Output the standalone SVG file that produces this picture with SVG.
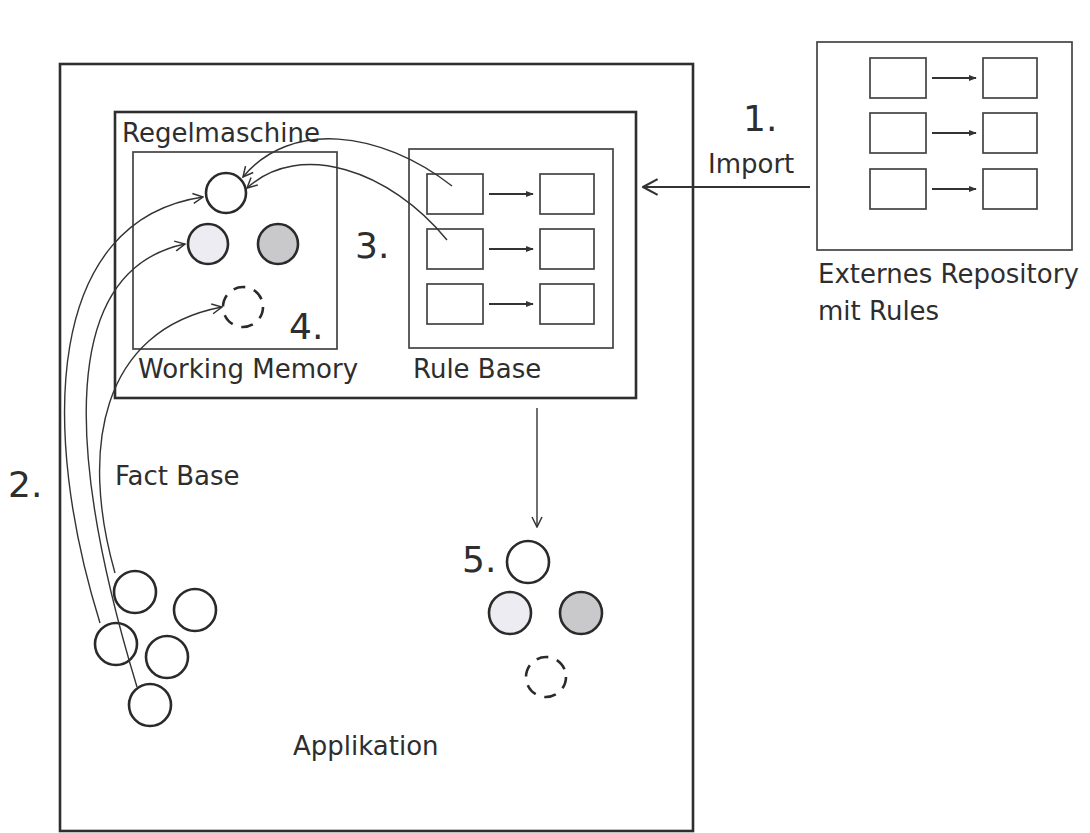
<svg xmlns="http://www.w3.org/2000/svg" width="1090" height="833" viewBox="0 0 1090 833">
<defs>
<style>
.lbl{font-family:"DejaVu Sans","Liberation Sans",sans-serif;font-size:26px;fill:#2e2e2e}
.num{font-family:"DejaVu Sans","Liberation Sans",sans-serif;font-size:36px;fill:#2e2e2e}
.box{fill:none;stroke:#2e2e2e;stroke-width:2.6}
.ibox{fill:none;stroke:#444;stroke-width:1.7}
.circ{fill:#fff;stroke:#2a2a2a;stroke-width:2.6}
.lg{fill:#ececf2}
.dg{fill:#c9c9cc}
.dash{fill:none;stroke:#2a2a2a;stroke-width:2.6;stroke-dasharray:12 9}
.con{fill:none;stroke:#333;stroke-width:1.4}
.small{fill:none;stroke:#333;stroke-width:1.8}
</style>
<marker id="v" viewBox="0 0 12 12" refX="11" refY="6" markerWidth="12" markerHeight="12" markerUnits="userSpaceOnUse" orient="auto">
<path d="M1 1 L11 6 L1 11" fill="none" stroke="#333" stroke-width="1.5"/>
</marker>
<marker id="vb" viewBox="0 0 16 16" refX="15" refY="8" markerWidth="18" markerHeight="18" markerUnits="userSpaceOnUse" orient="auto">
<path d="M2 1 L15 8 L2 15" fill="none" stroke="#333" stroke-width="2"/>
</marker>
<marker id="f" viewBox="0 0 10 10" refX="9" refY="5" markerWidth="8" markerHeight="8" markerUnits="userSpaceOnUse" orient="auto">
<path d="M0 1 L10 5 L0 9 Z" fill="#333"/>
</marker>
<g id="rulepair">
<rect class="ibox" x="0" y="0" width="56" height="40"/>
<rect class="ibox" x="113" y="0" width="54" height="40"/>
<line class="small" x1="62" y1="20" x2="106" y2="20" marker-end="url(#f)"/>
</g>
</defs>
<rect width="1090" height="833" fill="#fff"/>

<g id="applikation">
<rect class="box" x="60" y="64" width="633" height="767"/>
<text class="lbl" x="293" y="755">Applikation</text>
</g>

<g id="regelmaschine">
<rect class="box" x="115" y="112" width="521" height="286"/>
<text class="lbl" x="122" y="142">Regelmaschine</text>
</g>

<g id="working-memory">
<rect class="ibox" x="133" y="152" width="204" height="197"/>
<text class="lbl" x="138" y="378">Working Memory</text>
<circle class="circ" cx="226" cy="193" r="20"/>
<circle class="circ lg" cx="208" cy="244" r="20"/>
<circle class="circ dg" cx="278" cy="244" r="20"/>
<circle class="dash" cx="243" cy="307" r="20"/>
<text class="num" x="289" y="339">4.</text>
</g>

<g id="rule-base">
<rect class="ibox" x="409" y="149" width="204" height="199"/>
<text class="lbl" x="413" y="378">Rule Base</text>
<use href="#rulepair" x="427" y="174"/>
<use href="#rulepair" x="427" y="229"/>
<use href="#rulepair" x="427" y="284"/>
</g>

<g id="step3"><text class="num" x="355" y="258">3.</text></g>

<g id="repository">
<rect class="ibox" x="817" y="42" width="255" height="208"/>
<use href="#rulepair" x="870" y="58"/>
<use href="#rulepair" x="870" y="113"/>
<use href="#rulepair" x="870" y="169"/>
<text class="lbl" x="818" y="283">Externes Repository</text>
<text class="lbl" x="818" y="320">mit Rules</text>
</g>

<g id="import-label">
<text class="num" x="743" y="131">1.</text>
<text class="lbl" x="708" y="173">Import</text>
</g>

<g id="fact-base">
<text class="lbl" x="115" y="485">Fact Base</text>
<circle class="circ" cx="135" cy="592" r="21"/>
<circle class="circ" cx="195" cy="610" r="21"/>
<circle class="circ" cx="116" cy="644" r="21"/>
<circle class="circ" cx="167" cy="657" r="21"/>
<circle class="circ" cx="150" cy="705" r="21"/>
</g>

<g id="step2"><text class="num" x="8" y="497">2.</text></g>

<g id="result">
<text class="num" x="462" y="572">5.</text>
<circle class="circ" cx="528" cy="562" r="21"/>
<circle class="circ lg" cx="510" cy="613" r="21"/>
<circle class="circ dg" cx="581" cy="613" r="21"/>
<circle class="dash" cx="546" cy="677" r="20"/>
</g>

<g id="connectors">
<line class="small" x1="810" y1="187" x2="643" y2="187" stroke-width="2.5" marker-end="url(#vb)"/>
<line class="con" x1="537" y1="408" x2="537" y2="527" marker-end="url(#v)"/>
<path class="con" d="M452 186 C380 130 290 120 243 177" marker-end="url(#v)"/>
<path class="con" d="M447 240 C390 170 300 140 247 188" marker-end="url(#v)"/>
<path class="con" d="M100 623 C40 430 45 220 203 197" marker-end="url(#v)"/>
<path class="con" d="M137 687 C65 450 60 270 185 244" marker-end="url(#v)"/>
<path class="con" d="M115 573 C80 450 100 330 222 307" marker-end="url(#v)"/>
</g>
</svg>
